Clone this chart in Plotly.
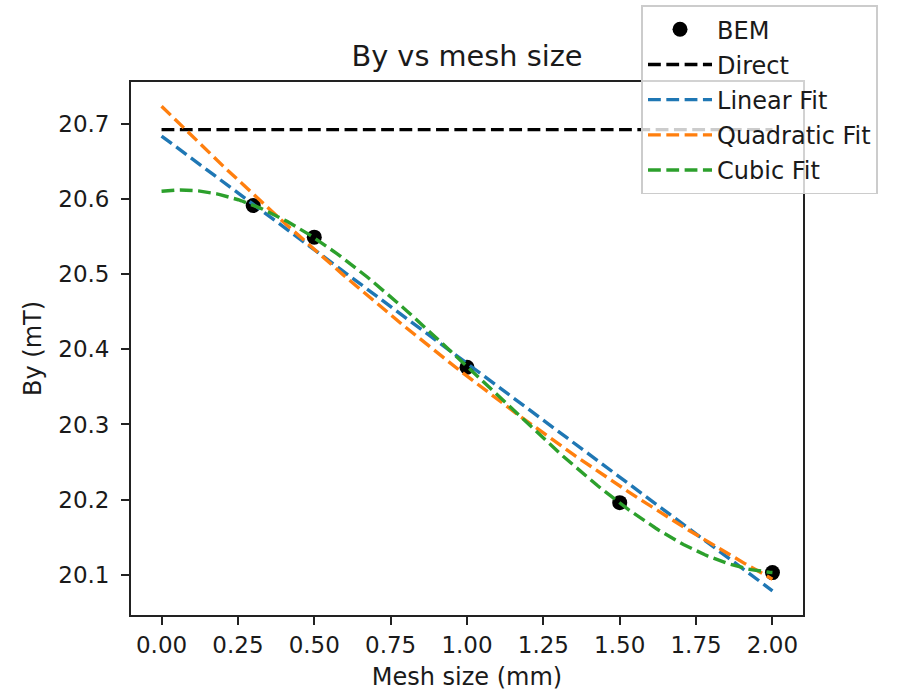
import numpy as np
import plotly.graph_objects as go

# ---- data ----
mesh_size = [0.3, 0.5, 1.0, 1.5, 2.0]            # mm
by_bem = [20.591, 20.549, 20.376, 20.196, 20.103]  # mT
by_direct = 20.692                                 # mT
x_ticks = [0.0, 0.25, 0.5, 0.75, 1.0, 1.25, 1.5, 1.75, 2.0]
y_ticks = [20.1, 20.2, 20.3, 20.4, 20.5, 20.6, 20.7]

fit_names = ["Linear Fit", "Quadratic Fit", "Cubic Fit"]
fit_degrees = [1, 2, 3]
fit_colors = ["#1f77b4", "#ff7f0e", "#2ca02c"]

FONT = "DejaVu Sans"
TXT = "#1a1a1a"
DASH = "12.8px,5.5px"

x_fit = np.linspace(0, 2, 200)
fits = [np.polyval(np.polyfit(mesh_size, by_bem, d), x_fit) for d in fit_degrees]

fig = go.Figure()
fig.add_trace(go.Scatter(
    x=mesh_size, y=by_bem, mode="markers", name="BEM",
    marker=dict(color="black", size=15, line=dict(width=0)),
    legendgroup="a"))
fig.add_trace(go.Scatter(
    x=[0, 2], y=[by_direct, by_direct], mode="lines", name="Direct",
    line=dict(color="black", width=3.4, dash=DASH), legendgroup="b"))
for name, col, yv, g in zip(fit_names, fit_colors, fits, ["c", "d", "e"]):
    fig.add_trace(go.Scatter(
        x=x_fit, y=yv, mode="lines", name=name,
        line=dict(color=col, width=3.4, dash=DASH), legendgroup=g))

all_y = np.concatenate([np.array(by_bem), [by_direct]] + fits)
ymin, ymax = all_y.min(), all_y.max()
pad = 0.05 * (ymax - ymin)

axis_common = dict(
    showline=True, linecolor="#222", linewidth=1.8, mirror=True,
    ticks="outside", ticklen=8, tickwidth=1.8, tickcolor="#222",
    showgrid=False, zeroline=False,
    tickfont=dict(family=FONT, size=23, color=TXT),
)

fig.update_layout(
    width=897, height=691,
    margin=dict(l=131, r=94, t=82, b=76, autoexpand=False),
    paper_bgcolor="white", plot_bgcolor="white",
    font=dict(family=FONT, color=TXT),
    title=dict(text="By vs mesh size", x=0.5, xref="paper", xanchor="center",
               y=(691 - 56) / 691, yref="container", yanchor="middle",
               font=dict(family=FONT, size=28.8, color=TXT)),
    xaxis=dict(range=[-0.1, 2.1], tickvals=x_ticks, tickformat=".2f",
               ticklabelstandoff=0,
               title=dict(text="Mesh size (mm)", standoff=15,
                          font=dict(family=FONT, size=24, color=TXT)),
               **axis_common),
    yaxis=dict(range=[ymin - pad, ymax + pad], tickvals=y_ticks, tickformat=".1f",
               ticklabelstandoff=7,
               title=dict(text="By (mT)", standoff=10,
                          font=dict(family=FONT, size=24, color=TXT)),
               **axis_common),
    legend=dict(x=(641 - 131) / (802.7 - 131), y=(615 - 5) / (615 - 81.7),
                xanchor="left", yanchor="top",
                bgcolor="rgba(255,255,255,0.8)", bordercolor="#cccccc",
                borderwidth=1.8, font=dict(family=FONT, size=24, color=TXT),
                itemwidth=64, tracegroupgap=1),
    showlegend=True,
)

fig.write_html("out.html")
